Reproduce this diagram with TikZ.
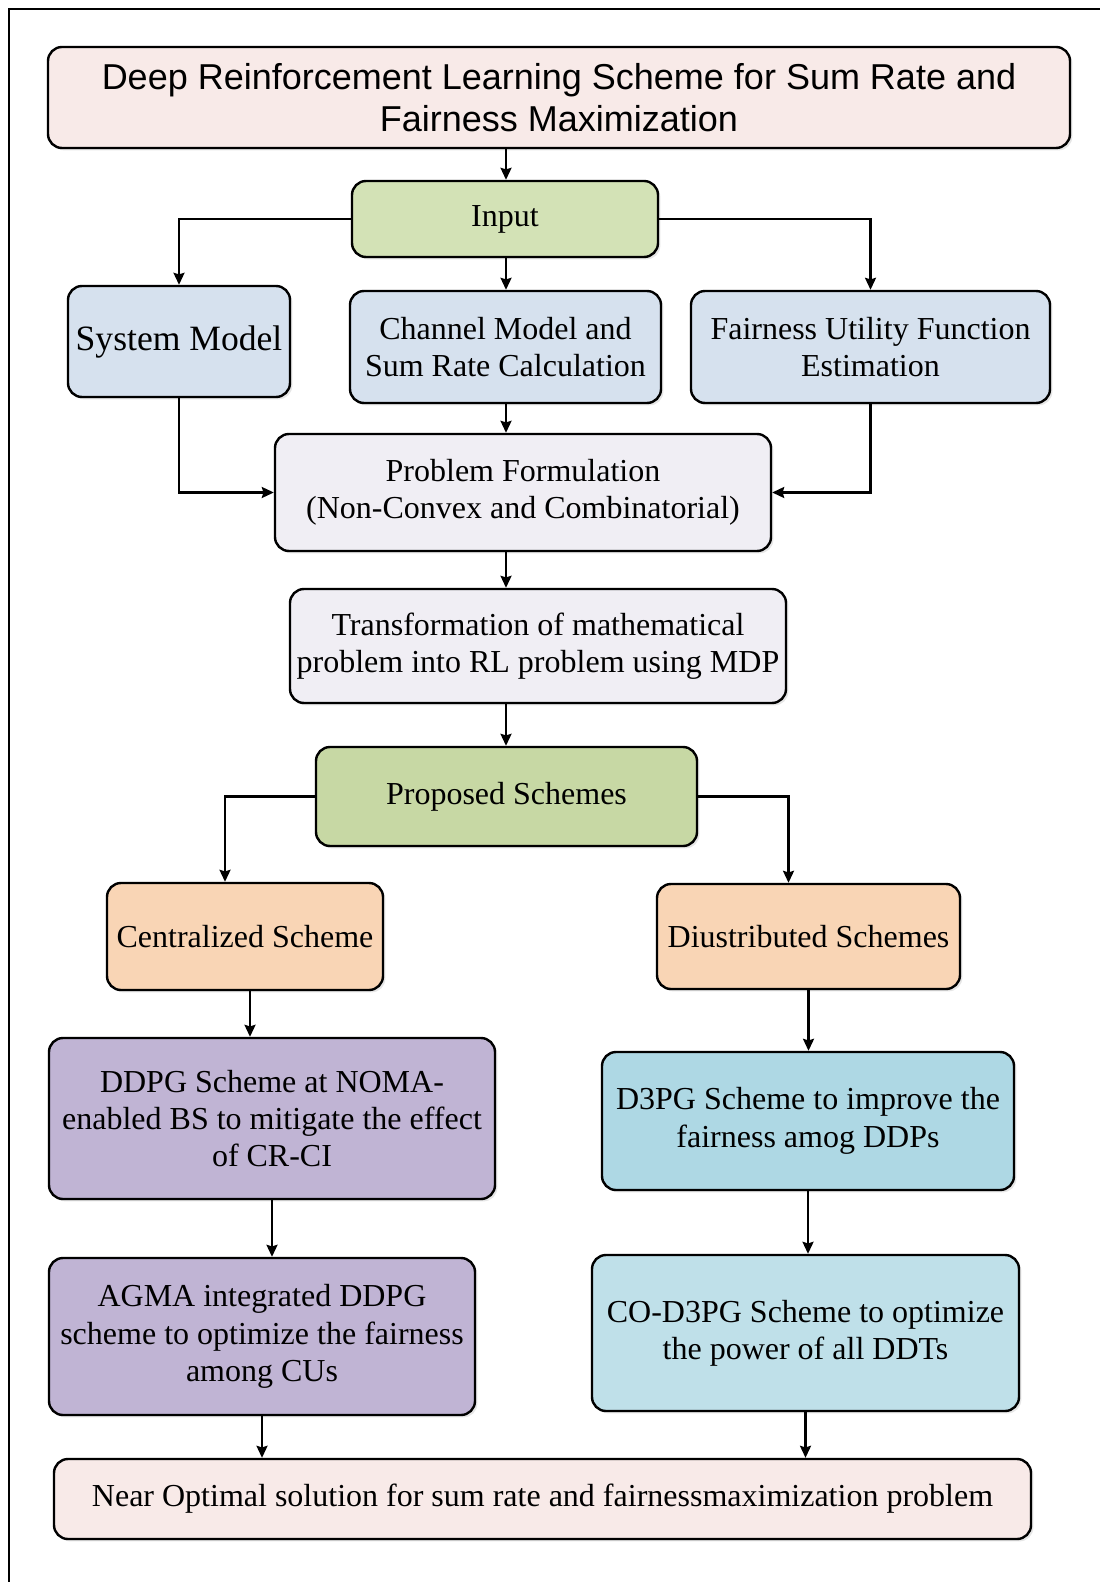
\documentclass[tikz,border=0pt]{standalone}
\usepackage{fontspec}
\setmainfont{Liberation Serif}
\newfontfamily\headfont{Liberation Sans}
\usetikzlibrary{positioning, arrows.meta, shadows}
\definecolor{lightpink}{RGB}{248,234,232}
\definecolor{lightgreen}{RGB}{211,226,182}
\definecolor{midgreen}{RGB}{199,216,164}
\definecolor{lightblue}{RGB}{214,225,238}
\definecolor{lightlilac}{RGB}{240,238,244}
\definecolor{lightpeach}{RGB}{249,213,181}
\definecolor{lightpurple}{RGB}{192,180,212}
\definecolor{skyblue}{RGB}{174,216,228}
\definecolor{paleblue}{RGB}{191,224,233}

\begin{document}
\begin{tikzpicture}[x=0.5pt, y=-0.5pt,
  box/.style={rectangle, rounded corners=7pt, draw, line width=1.2pt,
              align=center, inner sep=2pt,
              font=\fontsize{16}{18.7}\selectfont,
              drop shadow={shadow xshift=1.2pt, shadow yshift=-1.2pt, opacity=0.2}},
  arr/.style={-{Stealth[length=6pt, width=5.5pt, inset=0.8pt]}, line width=1.1pt}
]
  \useasboundingbox (0,0) rectangle (1100,1582);
  \draw[line width=0.7pt] (9,1582) -- (9,9) -- (1100,9);
  \coordinate (spine) at (506,0);

  \node[box, fill=lightpink, minimum width=511pt, minimum height=50.5pt,
        font=\headfont\fontsize{18}{20.7}\selectfont] (title) at (559,97.5)
        {Deep Reinforcement Learning Scheme for Sum Rate and\\Fairness Maximization};
  \node[box, fill=lightgreen, minimum width=153pt, minimum height=38pt] (input) at (505,219) {Input};
  \node[box, fill=lightblue, minimum width=111pt, minimum height=55.5pt,
        font=\fontsize{17.8}{20}\selectfont] (sysm) at (179,341.5) {System Model};
  \node[box, fill=lightblue, minimum width=155.5pt, minimum height=56pt] (chan) at (505.5,347)
        {Channel Model and\\Sum Rate Calculation};
  \node[box, fill=lightblue, minimum width=179.5pt, minimum height=56pt] (fair) at (870.5,347)
        {Fairness Utility Function\\Estimation};
  \node[box, fill=lightlilac, minimum width=248pt, minimum height=58.5pt] (prob) at (523,492.5)
        {Problem Formulation\\(Non-Convex and Combinatorial)};
  \node[box, fill=lightlilac, minimum width=248pt, minimum height=57pt] (trans) at (538,646)
        {Transformation of mathematical\\problem into RL problem using MDP};
  \node[box, fill=midgreen, minimum width=190.5pt, minimum height=49.5pt] (prop) at (506.5,796.5)
        {Proposed Schemes};
  \node[box, fill=lightpeach, minimum width=138pt, minimum height=53.5pt] (cent) at (245,936.5)
        {Centralized Scheme};
  \node[box, fill=lightpeach, minimum width=151.5pt, minimum height=52.5pt] (dist) at (808.5,936.5)
        {Diustributed Schemes};
  \node[box, fill=lightpurple, minimum width=223pt, minimum height=80.5pt] (ddpg) at (272,1118.5)
        {DDPG Scheme at NOMA-\\enabled BS to mitigate the effect\\of CR-CI};
  \node[box, fill=skyblue, minimum width=206pt, minimum height=69pt] (dpg) at (808,1121)
        {D3PG Scheme to improve the\\fairness amog DDPs};
  \node[box, fill=lightpurple, minimum width=213pt, minimum height=78.5pt] (agma) at (262,1336.5)
        {AGMA integrated DDPG\\scheme to optimize the fairness\\among CUs};
  \node[box, fill=paleblue, minimum width=213.5pt, minimum height=78pt] (codpg) at (805.5,1333)
        {CO-D3PG Scheme to optimize\\the power of all DDTs};
  \node[box, fill=lightpink, minimum width=488.5pt, minimum height=40pt] (near) at (542.5,1499)
        {Near Optimal solution for sum rate and fairnessmaximization problem};

  \draw[arr] (title.south -| spine) -- (input.north -| spine);
  \draw[arr] (input.south -| spine) -- (chan.north -| spine);
  \draw[arr] (input.west) -| (sysm.north);
  \draw[arr] (input.east) -| (fair.north);
  \draw[arr] (chan.south -| spine) -- (prob.north -| spine);
  \draw[arr] (sysm.south) |- (prob.west);
  \draw[arr] (fair.south) |- (prob.east);
  \draw[arr] (prob.south -| spine) -- (trans.north -| spine);
  \draw[arr] (trans.south -| spine) -- (prop.north -| spine);
  \draw[arr] (prop.west) -| ([xshift=-10pt]cent.north);
  \draw[arr] (prop.east) -| ([xshift=-10pt]dist.north);
  \draw[arr] ([xshift=2.5pt]cent.south) -- ([xshift=2.5pt]cent.south |- ddpg.north);
  \draw[arr] (dist.south) -- (dist.south |- dpg.north);
  \draw[arr] (ddpg.south) -- (ddpg.south |- agma.north);
  \draw[arr] (dpg.south) -- (dpg.south |- codpg.north);
  \draw[arr] (agma.south) -- (agma.south |- near.north);
  \draw[arr] (codpg.south) -- (codpg.south |- near.north);
\end{tikzpicture}
\end{document}
